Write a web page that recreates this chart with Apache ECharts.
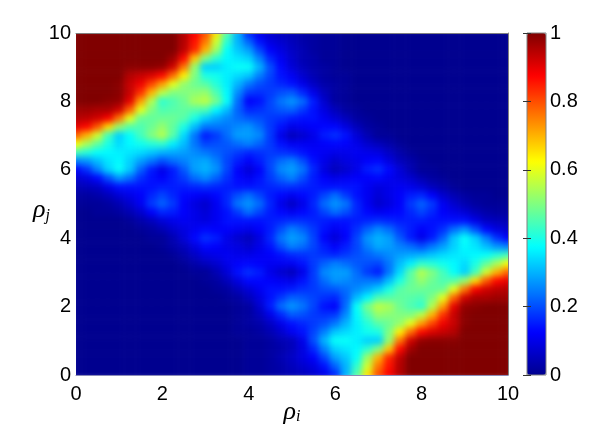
<!DOCTYPE html>
<html>
<head>
<meta charset="utf-8">
<style>html,body{margin:0;padding:0;background:#fff}#c{width:591px;height:428px}</style>
<script src="https://cdn.jsdelivr.net/npm/echarts@6/dist/echarts.min.js"></script>
</head>
<body>
<div id="c"></div>
<script>
const xCats = ['0','0.25','0.5','0.75','1','1.25','1.5','1.75','2','2.25','2.5','2.75','3','3.25','3.5','3.75','4','4.25','4.5','4.75','5','5.25','5.5','5.75','6','6.25','6.5','6.75','7','7.25','7.5','7.75','8','8.25','8.5','8.75','9','9.25','9.5','9.75','10'];
const yCats = xCats;
const xTickStep = 2, yTickStep = 2, barTickStep = 0.2;
const jet = ['#00008f','#0000ff','#0080ff','#00ffff','#80ff80','#ffff00','#ff8000','#ff0000','#800000'];
// percent values; first row is rho_j = 10, last is rho_j = 0; columns rho_i = 0..10
const heatRows = [
[100,100,100,100,100,100,100,100,100,100,95,88,80,65,46,30,16,10,7,5,4,3,2,1,1,0,0,0,0,0,0,0,0,0,0,0,0,0,0,0,0],
[100,100,100,100,100,100,100,100,100,100,95,86,76,58,42,30,22,14,9,7,5,3,2,1,1,0,0,0,0,0,0,0,0,0,0,0,0,0,0,0,0],
[100,100,100,100,100,100,100,100,100,100,94,84,70,53,38,32,28,19,12,9,6,4,2,1,1,0,0,0,0,0,0,0,0,0,0,0,0,0,0,0,0],
[100,100,100,100,100,100,100,100,100,97,87,68,50,42,37,35,33,25,16,11,7,4,3,1,1,0,0,0,0,0,0,0,0,0,0,0,0,0,0,0,0],
[100,100,100,100,100,99,99,99,98,92,76,52,33,33,36,38,38,30,20,13,8,5,3,2,1,0,0,0,0,0,0,0,0,0,0,0,0,0,0,0,0],
[100,100,100,100,100,95,93,91,87,77,64,50,40,39,36,34,32,25,19,14,11,7,4,2,1,1,0,0,0,0,0,0,0,0,0,0,0,0,0,0,0],
[100,100,100,100,99,93,89,81,72,60,52,48,46,41,36,30,24,20,18,16,14,10,6,3,2,1,0,0,0,0,0,0,0,0,0,0,0,0,0,0,0],
[100,100,100,100,99,93,83,70,56,50,50,51,52,45,37,26,18,17,18,20,21,16,10,5,2,1,0,0,0,0,0,0,0,0,0,0,0,0,0,0,0],
[100,100,100,99,98,90,72,55,42,45,48,54,56,49,38,23,12,14,19,24,27,23,15,7,2,1,0,0,0,0,0,0,0,0,0,0,0,0,0,0,0],
[97,97,96,96,92,78,60,50,45,46,47,46,45,37,31,22,16,17,19,21,22,18,14,9,5,2,1,0,0,0,0,0,0,0,0,0,0,0,0,0,0],
[95,94,92,88,76,60,48,47,48,48,46,40,33,29,26,23,21,20,18,17,15,14,14,11,8,5,2,1,0,0,0,0,0,0,0,0,0,0,0,0,0],
[90,87,79,66,52,46,45,48,52,47,40,31,24,24,24,26,27,23,18,14,10,11,12,13,13,9,5,2,1,0,0,0,0,0,0,0,0,0,0,0,0],
[78,70,58,44,33,38,44,50,55,46,34,24,15,18,23,28,28,26,18,10,5,7,10,15,17,14,8,4,1,1,0,0,0,0,0,0,0,0,0,0,0],
[62,54,47,40,34,37,39,41,42,36,31,24,19,20,21,23,25,22,18,14,11,11,11,12,13,12,10,7,5,3,1,0,0,0,0,0,0,0,0,0,0],
[44,41,38,37,36,35,34,32,30,29,28,26,24,22,20,18,16,17,18,17,16,14,12,11,10,10,11,10,9,6,3,1,0,0,0,0,0,0,0,0,0],
[25,27,31,35,37,33,28,24,20,23,25,28,29,25,19,15,12,15,19,23,25,20,14,10,7,9,10,12,13,9,5,3,1,0,0,0,0,0,0,0,0],
[12,17,25,33,38,32,22,15,10,15,21,28,30,27,19,12,8,12,19,26,28,24,16,9,5,7,10,15,17,13,8,4,1,1,0,0,0,0,0,0,0],
[7,9,13,20,27,23,17,14,12,15,18,23,26,22,17,13,11,14,18,22,25,20,15,12,10,11,12,12,13,11,9,7,4,2,1,0,0,0,0,0,0],
[4,5,6,10,14,14,14,14,15,15,15,16,17,16,15,14,14,15,16,17,17,16,15,14,14,14,14,11,9,10,11,10,8,5,3,1,0,0,0,0,0],
[2,2,3,5,8,10,12,16,19,16,13,12,11,13,16,20,23,19,15,13,11,13,15,19,23,18,14,11,8,10,12,15,16,12,7,4,2,1,1,0,0],
[1,1,1,2,4,7,11,18,22,18,12,9,7,11,16,24,27,23,16,10,6,10,16,23,27,24,16,11,7,9,12,18,22,18,11,7,4,2,1,1,1],
[0,0,1,1,2,4,7,12,16,15,12,10,8,11,14,18,23,19,15,13,11,13,15,19,23,20,16,13,11,12,13,16,19,16,12,10,8,5,3,2,2],
[0,0,0,0,0,1,3,5,8,10,11,10,9,11,14,14,14,14,15,16,17,17,16,15,14,14,15,16,17,16,15,15,15,14,14,14,14,10,6,5,4],
[0,0,0,0,0,0,1,2,4,7,9,11,13,12,12,11,10,12,15,20,25,22,18,14,11,13,17,22,26,23,18,15,12,14,17,23,27,20,13,9,7],
[0,0,0,0,0,0,0,1,1,4,8,13,17,15,10,7,5,9,16,24,28,26,19,12,8,12,19,27,30,28,21,15,10,15,22,32,38,33,25,17,12],
[0,0,0,0,0,0,0,0,1,3,5,9,13,12,10,9,7,10,14,20,25,23,19,15,12,15,19,25,29,28,25,23,20,24,28,33,37,35,31,27,25],
[0,0,0,0,0,0,0,0,0,1,3,6,9,10,11,10,10,11,12,14,16,17,18,17,16,18,20,22,24,26,28,29,30,32,34,35,36,37,38,41,44],
[0,0,0,0,0,0,0,0,0,0,1,3,5,7,10,12,13,12,11,11,11,14,18,22,25,23,21,20,19,24,31,36,42,41,39,37,34,40,47,54,62],
[0,0,0,0,0,0,0,0,0,0,0,1,1,4,8,14,17,15,10,7,5,10,18,26,28,28,23,18,15,24,34,46,55,50,44,38,33,44,58,70,78],
[0,0,0,0,0,0,0,0,0,0,0,0,1,2,5,9,13,13,12,11,10,14,18,23,27,26,24,24,24,31,40,47,52,48,45,46,52,66,79,87,90],
[0,0,0,0,0,0,0,0,0,0,0,0,0,1,2,5,8,11,14,14,15,17,18,20,21,23,26,29,33,40,46,48,48,47,48,60,76,88,92,94,95],
[0,0,0,0,0,0,0,0,0,0,0,0,0,0,1,2,5,9,14,18,22,21,19,17,16,22,31,37,45,46,47,46,45,50,60,78,92,96,96,97,97],
[0,0,0,0,0,0,0,0,0,0,0,0,0,0,0,1,2,7,15,23,27,24,19,14,12,23,38,49,56,54,48,45,42,55,72,90,98,99,100,100,100],
[0,0,0,0,0,0,0,0,0,0,0,0,0,0,0,1,2,5,10,16,21,20,18,17,18,26,37,45,52,51,50,50,56,70,83,93,99,100,100,100,100],
[0,0,0,0,0,0,0,0,0,0,0,0,0,0,0,1,2,3,6,10,14,16,18,20,24,30,36,41,46,48,52,60,72,81,89,93,99,100,100,100,100],
[0,0,0,0,0,0,0,0,0,0,0,0,0,0,0,1,1,2,4,7,11,14,19,25,32,34,36,39,40,50,64,77,87,91,93,95,100,100,100,100,100],
[0,0,0,0,0,0,0,0,0,0,0,0,0,0,0,0,1,1,2,4,5,10,20,30,38,38,36,33,33,52,76,92,98,99,99,99,100,100,100,100,100],
[0,0,0,0,0,0,0,0,0,0,0,0,0,0,0,0,1,1,2,3,5,9,16,25,33,35,37,42,50,68,87,97,100,100,100,100,100,100,100,100,100],
[0,0,0,0,0,0,0,0,0,0,0,0,0,0,0,0,1,1,2,4,6,9,12,19,28,32,38,53,70,84,94,100,100,100,100,100,100,100,100,100,100],
[0,0,0,0,0,0,0,0,0,0,0,0,0,0,0,0,1,1,2,3,5,7,9,14,22,30,42,58,76,86,95,100,100,100,100,100,100,100,100,100,100],
[0,0,0,0,0,0,0,0,0,0,0,0,0,0,0,0,1,1,2,3,4,5,7,10,16,30,46,65,80,88,95,100,100,100,100,100,100,100,100,100,100]
];

const heatData = [];
heatRows.forEach((row, r) => row.forEach((v, i) => heatData.push([i, 40 - r, v / 100])));

const tickFont = {fontFamily: '"Liberation Sans"', fontSize: 20, color: '#000'};
const chart = echarts.init(document.getElementById('c'), null, {renderer: 'canvas'});
const lineOnly = {lineStyle: {color: '#808080', width: 1}};
const nameRich = {
  g: {fontFamily: '"Liberation Serif"', fontStyle: 'italic', fontSize: 26, color: '#000'},
  s: {fontFamily: '"Liberation Serif"', fontStyle: 'italic', fontSize: 16, color: '#000', padding: [10, 0, 0, 0]}
};
chart.setOption({
  animation: false,
  grid: [
    {left: 70.6, top: 28.725, width: 442.8, height: 350.55, outerBoundsMode: 'none'},
    {left: 76, top: 33, width: 432, height: 342, outerBoundsMode: 'none'},
    {left: 527, top: 33, width: 19, height: 342, outerBoundsMode: 'none', show: true, borderColor: '#808080', borderWidth: 1, backgroundColor: 'transparent', z: 10, zlevel: 1}
  ],
  visualMap: {
    type: 'continuous', min: 0, max: 1, seriesIndex: 0, calculable: false, realtime: false,
    left: 527, top: 33, itemWidth: 19, itemHeight: 342, padding: 0, text: ['', ''], zlevel: 1,
    inRange: {color: jet}
  },
  xAxis: [
    {type: 'category', gridIndex: 0, data: xCats, show: false},
    {type: 'value', gridIndex: 1, min: 0, max: 10, interval: xTickStep, position: 'bottom', zlevel: 1, z: 5,
      axisLine: {show: true, onZero: false, lineStyle: {color: '#8a8ab8', width: 1}}, axisTick: {show: false}, splitLine: {show: false},
      axisLabel: Object.assign({margin: 9}, tickFont),
      name: '{g|ρ}{s|i}', nameLocation: 'middle', nameGap: 24, nameMoveOverlap: false,
      nameTextStyle: {rich: nameRich}},
    {type: 'value', gridIndex: 1, min: 0, max: 10, position: 'top', zlevel: 1, z: 5,
      axisLine: Object.assign({show: true, onZero: false}, lineOnly), axisTick: {show: false}, axisLabel: {show: false}, splitLine: {show: false}},
    {type: 'value', gridIndex: 2, min: 0, max: 1, show: false}
  ],
  yAxis: [
    {type: 'category', gridIndex: 0, data: yCats, show: false},
    {type: 'value', gridIndex: 1, min: 0, max: 10, interval: yTickStep, position: 'left', zlevel: 1, z: 5,
      axisLine: {show: false}, axisTick: {show: false}, splitLine: {show: false},
      axisLabel: Object.assign({margin: 5, padding: [2, 0, 0, 0]}, tickFont),
      name: '{g|ρ}{s|j}', nameLocation: 'middle', nameGap: 26, nameRotate: 0, nameMoveOverlap: false,
      nameTextStyle: {padding: [13, 0, 0, 0], rich: nameRich}},
    {type: 'value', gridIndex: 1, min: 0, max: 10, position: 'right', zlevel: 1, z: 5,
      axisLine: Object.assign({show: true, onZero: false}, lineOnly), axisTick: {show: false}, axisLabel: {show: false}, splitLine: {show: false}},
    {type: 'value', gridIndex: 2, min: 0, max: 1, interval: barTickStep, position: 'right', zlevel: 1, z: 12,
      axisLine: {show: false}, splitLine: {show: false},
      axisTick: {show: true, inside: true, length: 4, lineStyle: {color: '#333'}},
      axisLabel: Object.assign({margin: 4, padding: [5, 0, 0, 0]}, tickFont)},
    {type: 'value', gridIndex: 2, min: 0, max: 1, interval: barTickStep, position: 'left', zlevel: 1, z: 12,
      axisLine: {show: false}, splitLine: {show: false},
      axisTick: {show: true, inside: true, length: 4, lineStyle: {color: '#333'}}, axisLabel: {show: false}}
  ],
  series: [{
    type: 'heatmap', xAxisIndex: 0, yAxisIndex: 0, data: heatData, silent: true, progressive: 0,
    itemStyle: {borderWidth: 0}
  }]
});
const heatLayer = chart.getDom().querySelector('canvas[data-zr-dom-id="zr_0"]');
if (heatLayer) {
  heatLayer.style.filter = 'blur(3px)';
  heatLayer.style.clipPath = 'inset(33px 83px 53px 76px)';
}
</script>
</body>
</html>
